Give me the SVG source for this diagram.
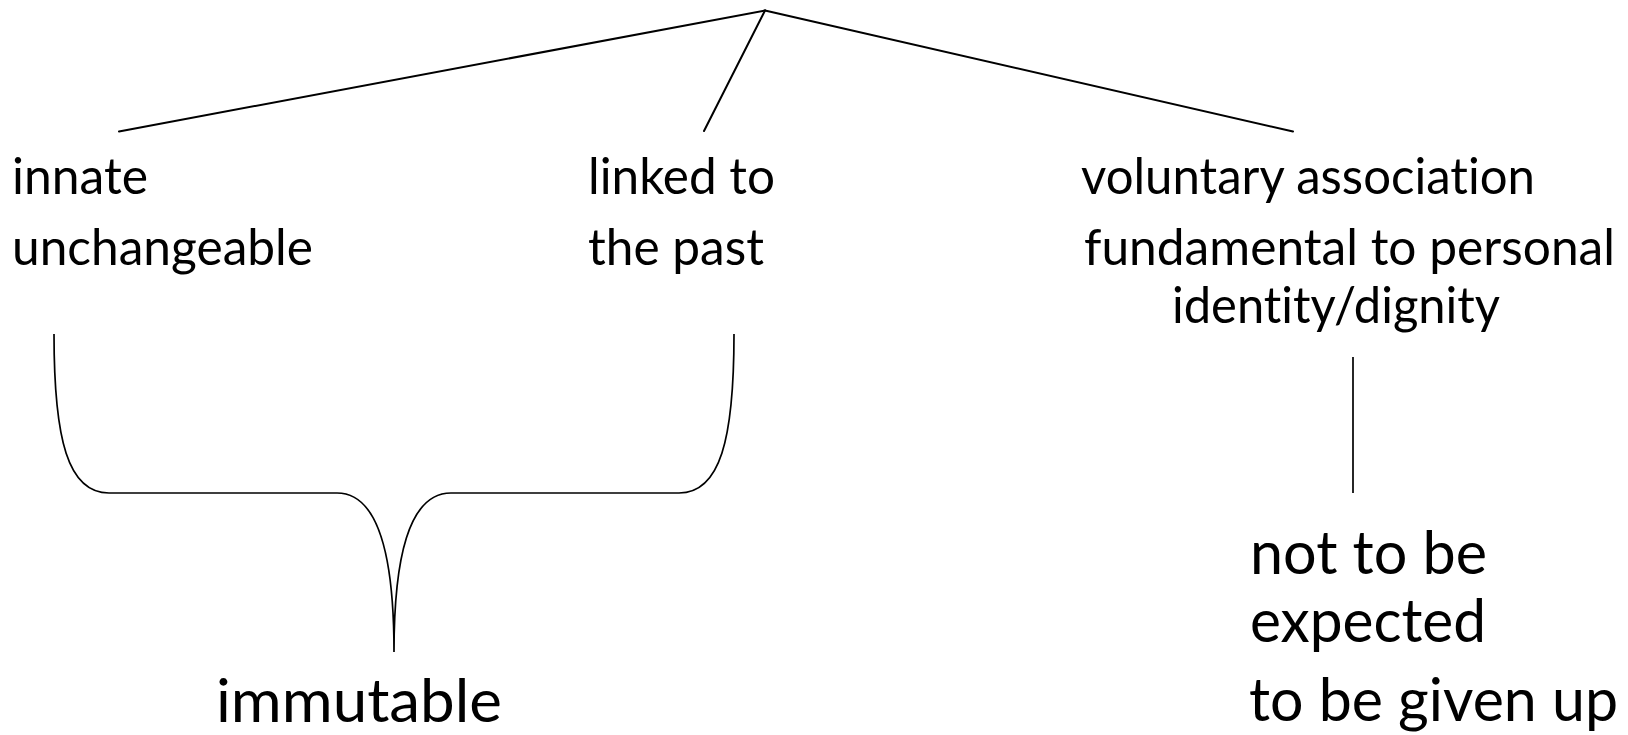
<svg xmlns="http://www.w3.org/2000/svg" width="1628" height="735" viewBox="0 0 1628 735">
  <style>
    .t { font-family: Lato, "Liberation Sans", sans-serif; font-size: 50px; fill: #000; font-variant-ligatures: none; font-feature-settings: "liga" 0, "clig" 0; }
    .b { font-family: Lato, "Liberation Sans", sans-serif; font-size: 60px; fill: #000; font-variant-ligatures: none; font-feature-settings: "liga" 0, "clig" 0; }
    .ln { stroke: #000; stroke-width: 2; fill: none; stroke-linecap: round; }
    .br { stroke: #000; stroke-width: 1.7; fill: none; }
  </style>
  <rect width="1628" height="735" fill="#ffffff"/>
  <g id="connectors">
    <line class="ln" x1="765" y1="10.5" x2="119" y2="131.5"/>
    <line class="ln" x1="765" y1="10.5" x2="704" y2="131"/>
    <line class="ln" x1="765" y1="10.5" x2="1293" y2="131.5"/>
    <path class="br" d="M54,334 C54,440 68,493 109,493 L337,493 C380,493 394,560 394,652 C394,560 408,493 451,493 L679,493 C720,493 734,440 734,334"/>
    <line class="br" x1="1353" y1="357" x2="1353" y2="493"/>
  </g>
  <g id="node-innate">
    <text class="t" x="12" y="194" textLength="136" lengthAdjust="spacingAndGlyphs">innate</text>
    <text class="t" x="12" y="265" textLength="301" lengthAdjust="spacingAndGlyphs">unchangeable</text>
  </g>
  <g id="node-linked">
    <text class="t" x="588" y="194" textLength="187" lengthAdjust="spacingAndGlyphs">linked to</text>
    <text class="t" x="588" y="265" textLength="176" lengthAdjust="spacingAndGlyphs">the past</text>
  </g>
  <g id="node-voluntary">
    <text class="t" x="1081" y="194" textLength="454" lengthAdjust="spacingAndGlyphs">voluntary association</text>
    <text class="t" x="1084" y="265" textLength="531" lengthAdjust="spacingAndGlyphs">fundamental to personal</text>
    <text class="t" x="1172" y="323" textLength="328" lengthAdjust="spacingAndGlyphs">identity/dignity</text>
  </g>
  <g id="node-immutable">
    <text class="b" x="216" y="722" textLength="286" lengthAdjust="spacingAndGlyphs">immutable</text>
  </g>
  <g id="node-not-expected">
    <text class="b" x="1250" y="574" textLength="237" lengthAdjust="spacingAndGlyphs">not to be</text>
    <text class="b" x="1250" y="642" textLength="236" lengthAdjust="spacingAndGlyphs">expected</text>
    <text class="b" x="1249" y="721" textLength="369" lengthAdjust="spacingAndGlyphs">to be given up</text>
  </g>
</svg>
